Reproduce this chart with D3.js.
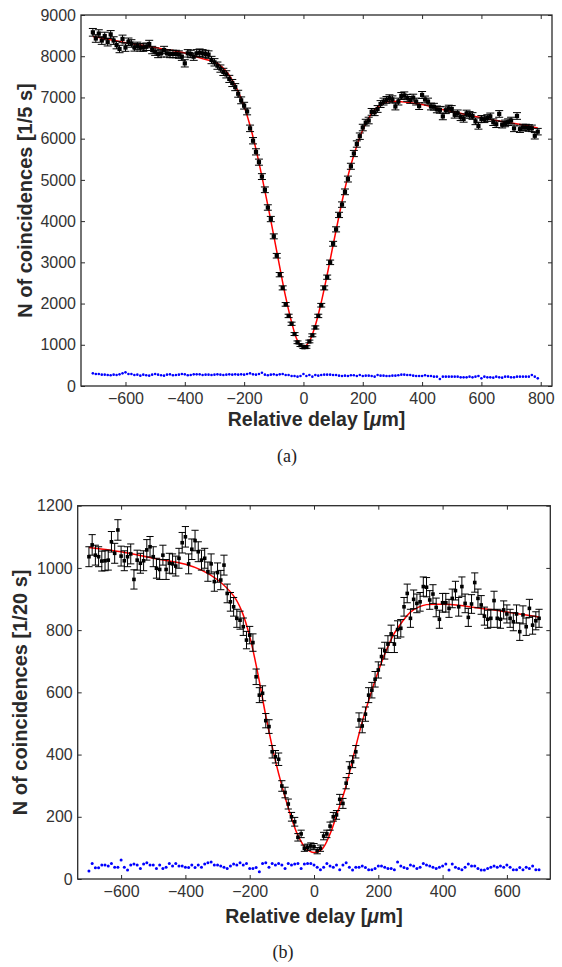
<!DOCTYPE html>
<html>
<head>
<meta charset="utf-8">
<script src="https://cdn.jsdelivr.net/npm/d3@7/dist/d3.min.js"></script>
<style>
  body { margin: 0; background: #fff; }
  svg { display: block; }
</style>
</head>
<body>
<svg id="fig" width="562" height="967"></svg>
<script>
// ---- panel (a) : counts per 1/5 s ----
const xStartA = -710, xStepA = 10;
const countsA = [8580,8430,8550,8380,8490,8340,8530,8380,8270,8175,8420,8210,8350,8310,8215,8250,8215,8210,8230,8295,
  8150,8110,8055,8070,8150,8070,8055,8055,8054,8040,7989,7827,8070,8054,7989,8070,8086,8070,8054,8040,
  7908,7852,7771,7700,7620,7560,7450,7350,7250,7090,6930,6800,6660,6250,5950,5680,5430,5080,4760,4330,
  4050,3630,3160,2700,2380,1980,1700,1510,1260,1060,990,940,945,1080,1230,1420,1700,1960,2380,2640,
  3000,3450,3800,4150,4400,4710,5020,5330,5640,5870,6060,6270,6390,6440,6650,6640,6720,6840,6900,6940,
  6980,6955,6780,6900,7035,7050,6990,6940,6995,6900,6790,7060,6950,6900,6780,6775,6710,6700,6540,6690,
  6730,6720,6580,6615,6520,6480,6610,6575,6550,6420,6310,6480,6470,6500,6540,6400,6350,6600,6340,6370,
  6400,6440,6250,6550,6230,6270,6270,6260,6250,6070,6170];
const errA = [93,92,92,92,92,91,92,92,91,90,92,91,91,91,91,91,91,91,91,91,
  90,90,90,90,90,90,90,90,90,90,89,88,90,90,89,90,90,90,90,90,
  89,89,88,88,87,87,86,86,85,84,83,82,82,79,77,75,74,71,69,66,
  64,60,56,52,49,44,41,39,35,33,31,31,31,33,35,38,41,44,49,51,
  55,59,62,64,66,69,71,73,75,77,78,79,80,80,82,81,82,83,83,83,
  84,83,82,83,84,84,84,83,84,83,82,84,83,83,82,82,82,82,81,82,
  82,82,81,81,81,80,81,81,81,80,79,80,80,81,81,80,80,81,80,80,
  80,80,79,81,79,79,79,79,79,78,79];
const bgA = [307,291,291,275,275,267,259,275,267,283,307,331,291,291,267,275,251,275,259,251,
  275,291,275,259,251,275,283,259,267,275,291,283,259,267,283,283,283,267,275,275,
  267,275,283,275,267,275,283,275,283,275,283,275,291,307,283,275,291,323,275,259,
  275,283,267,283,291,267,267,243,243,227,243,291,243,267,227,267,251,267,275,275,
  275,267,267,251,243,251,243,259,259,243,267,243,251,251,243,227,267,251,251,243,
  243,251,251,259,275,275,267,267,251,243,243,243,259,243,243,227,227,170,227,227,
  227,227,227,227,210,210,210,227,210,227,243,186,227,210,210,202,227,210,202,227,
  227,210,210,227,227,227,227,227,267,227,186];
const fitXA = [-710,-650,-600,-550,-500,-450,-400,-350,-300,-280,-260,-240,-220,-200,-180,-160,-140,-120,-100,-80,
  -60,-40,-20,0,20,40,60,80,100,120,140,160,180,200,220,240,260,280,300,350,400,450,500,550,600,650,700,750,790];
const fitA = [8480,8400,8330,8270,8210,8150,8080,7960,7860,7770,7630,7420,7140,6780,6320,5740,5080,4380,3640,2890,
  2160,1550,1100,940,1090,1470,2030,2700,3420,4130,4790,5360,5830,6210,6500,6700,6820,6890,6910,6880,6830,6740,6660,6580,6510,6440,6380,6320,6260];
const xTicksA = [-600,-400,-200,0,200,400,600,800];
const yTicksA = [0,1000,2000,3000,4000,5000,6000,7000,8000,9000];

// ---- panel (b) : counts per 1/20 s ----
const xStartB = -700, xStepB = 10;
const countsB = [1036,1074,1041,1036,1022,1023,1025,1084,1047,1122,1038,1023,1036,1045,963,1025,1015,1023,1058,1068,
  1036,999,995,1041,995,1015,1013,1006,1031,1081,1100,1013,1060,1088,1052,1025,1031,988,1013,956,
  985,961,1009,918,891,875,838,832,811,768,784,760,650,591,597,509,490,409,393,385,
  299,278,241,200,184,134,145,99,102,106,104,91,99,138,145,170,200,206,256,243,
  308,358,377,409,511,492,530,591,607,642,672,715,734,755,788,755,802,806,875,918,
  838,899,886,891,940,938,897,916,873,835,888,888,870,902,927,875,940,886,841,884,
  953,902,881,845,835,838,895,838,835,865,852,838,827,852,795,849,811,870,816,830,838];
const errB = [32,33,32,32,32,32,32,33,32,33,32,32,32,32,31,32,32,32,33,33,
  32,32,32,32,32,32,32,32,32,33,33,32,33,33,32,32,32,31,32,31,
  31,31,32,30,30,30,29,29,28,28,28,28,25,24,24,23,22,20,20,20,
  17,17,16,14,14,12,12,10,10,10,10,10,10,12,12,13,14,14,16,16,
  18,19,19,20,23,22,23,24,25,25,26,27,27,27,28,27,28,28,30,30,
  29,30,30,30,31,31,30,30,30,29,30,30,29,30,30,30,31,30,29,30,
  31,30,30,29,29,29,30,29,29,29,29,29,29,29,28,29,28,29,29,29,29];
const bgB = [26,50,36,36,45,45,42,50,38,38,61,38,29,45,48,45,34,48,52,45,
  45,34,45,34,38,50,42,50,42,42,38,37,45,37,45,38,48,52,55,45,
  45,42,38,34,42,48,45,52,45,50,34,34,37,23,50,52,38,50,45,50,
  45,34,50,45,48,50,34,48,50,50,45,38,30,38,50,42,38,45,30,45,
  52,38,29,38,38,42,37,30,30,34,42,42,38,34,34,30,55,42,37,34,
  45,42,34,38,50,45,42,38,34,38,42,48,29,48,38,34,30,38,48,42,
  42,34,29,29,34,38,42,38,42,38,45,38,30,30,37,30,38,34,42,30,30];
const fitXB = [-700,-600,-500,-400,-350,-300,-250,-225,-200,-175,-150,-125,-100,-75,-50,-25,0,25,50,75,
  100,125,150,175,200,225,250,275,300,325,350,400,450,500,550,600,650,700];
const fitB = [1066,1052,1031,1012,993,962,910,862,780,662,525,402,300,212,140,98,85,96,145,220,
  300,405,505,590,668,735,790,828,858,874,882,883,880,873,866,858,850,842];
const xTicksB = [-600,-400,-200,0,200,400,600];
const yTicksB = [0,200,400,600,800,1000,1200];

const svg = d3.select("#fig");
const sans = "'Liberation Sans', Arial, Helvetica, sans-serif";
const ink = "#2a2a2a";
const fmt = d3.format("d");

function drawPanel(p) {
  const x = d3.scaleLinear().domain(p.xDomain).range([p.left, p.right]);
  const y = d3.scaleLinear().domain(p.yDomain).range([p.bottom, p.top]);
  const g = svg.append("g");

  const pts = p.counts.map((v, i) => ({ x: p.x0 + p.dx * i, v: v, e: p.err[i] }));
  const bg = p.bg.map((v, i) => ({ x: p.x0 + p.dx * i, v: v }));
  const fit = p.fitX.map((fx, i) => ({ x: fx, v: p.fit[i] }));

  // blue background dots
  g.append("g").selectAll("circle").data(bg).join("circle")
    .attr("cx", d => x(d.x)).attr("cy", d => y(d.v))
    .attr("r", p.dotR).attr("fill", "#0000ff");

  // red fit
  g.append("path").datum(fit)
    .attr("fill", "none").attr("stroke", "#ff0000").attr("stroke-width", 1.5)
    .attr("d", d3.line().x(d => x(d.x)).y(d => y(d.v)).curve(d3.curveCatmullRom.alpha(0.5)));

  // error bars
  const eb = g.append("g").attr("stroke", "#000").attr("stroke-width", 1);
  eb.selectAll("line.v").data(pts).join("line").attr("class", "v")
    .attr("x1", d => x(d.x)).attr("x2", d => x(d.x))
    .attr("y1", d => y(d.v - d.e)).attr("y2", d => y(d.v + d.e));
  eb.selectAll("line.t").data(pts).join("line").attr("class", "t")
    .attr("x1", d => x(d.x) - p.cap).attr("x2", d => x(d.x) + p.cap)
    .attr("y1", d => y(d.v + d.e)).attr("y2", d => y(d.v + d.e));
  eb.selectAll("line.b").data(pts).join("line").attr("class", "b")
    .attr("x1", d => x(d.x) - p.cap).attr("x2", d => x(d.x) + p.cap)
    .attr("y1", d => y(d.v - d.e)).attr("y2", d => y(d.v - d.e));

  // square markers
  g.append("g").selectAll("rect").data(pts).join("rect")
    .attr("x", d => x(d.x) - p.sq / 2).attr("y", d => y(d.v) - p.sq / 2)
    .attr("width", p.sq).attr("height", p.sq).attr("fill", "#000");

  // axes, ticks pointing inward on all four sides
  const ax = [
    [d3.axisBottom(x).tickValues(p.xTicks).tickSize(-4).tickPadding(7).tickFormat(fmt), `translate(0,${p.bottom})`],
    [d3.axisTop(x).tickValues(p.xTicks).tickSize(-4).tickFormat(""), `translate(0,${p.top})`],
    [d3.axisLeft(y).tickValues(p.yTicks).tickSize(-4).tickPadding(5).tickFormat(fmt), `translate(${p.left},0)`],
    [d3.axisRight(y).tickValues(p.yTicks).tickSize(-4).tickFormat(""), `translate(${p.right},0)`]
  ];
  ax.forEach(([a, tr]) => {
    const s = g.append("g").attr("transform", tr).call(a.tickSizeOuter(0));
    s.select(".domain").remove();
    s.selectAll("line").attr("stroke", ink).attr("stroke-width", 1);
    s.selectAll("text").attr("font-family", sans).attr("font-size", 16).attr("fill", "#333");
  });
  g.append("rect")
    .attr("x", p.left).attr("y", p.top)
    .attr("width", p.right - p.left).attr("height", p.bottom - p.top)
    .attr("fill", "none").attr("stroke", ink).attr("stroke-width", 1.3);

  // axis titles
  const xt = g.append("text")
    .attr("x", (p.left + p.right) / 2).attr("y", p.xTitleY)
    .attr("text-anchor", "middle").attr("font-family", sans)
    .attr("font-size", 19.5).attr("font-weight", "bold").attr("fill", ink);
  xt.append("tspan").text("Relative delay [");
  xt.append("tspan").attr("font-style", "italic").text("\u03bc");
  xt.append("tspan").text("m]");

  g.append("text")
    .attr("transform", `translate(${p.yTitleX},${(p.top + p.bottom) / 2}) rotate(-90)`)
    .attr("text-anchor", "middle").attr("font-family", sans)
    .attr("font-size", 20).attr("font-weight", "bold").attr("fill", ink)
    .text(p.yTitle);

  g.append("text")
    .attr("x", p.capX).attr("y", p.capY)
    .attr("text-anchor", "middle")
    .attr("font-family", "'Liberation Serif', 'DejaVu Serif', serif")
    .attr("font-size", 18).attr("fill", "#222")
    .text(p.caption);
}

drawPanel({
  counts: countsA, err: errA, bg: bgA, fitX: fitXA, fit: fitA,
  x0: xStartA, dx: xStepA, xTicks: xTicksA, yTicks: yTicksA,
  xDomain: [-750, 838], yDomain: [0, 9000],
  left: 81, right: 552, top: 15, bottom: 386,
  sq: 4.2, cap: 4, dotR: 1.3,
  xTitleY: 426, yTitleX: 32, yTitle: "N of coincidences [1/5 s]",
  capX: 287, capY: 462, caption: "(a)"
});

drawPanel({
  counts: countsB, err: errB, bg: bgB, fitX: fitXB, fit: fitB,
  x0: xStartB, dx: xStepB, xTicks: xTicksB, yTicks: yTicksB,
  xDomain: [-735, 735], yDomain: [0, 1200],
  left: 77.7, right: 550.3, top: 505.7, bottom: 879,
  sq: 3.6, cap: 3.6, dotR: 1.5,
  xTitleY: 923, yTitleX: 27, yTitle: "N of coincidences [1/20 s]",
  capX: 283, capY: 958, caption: "(b)"
});
</script>
</body>
</html>
